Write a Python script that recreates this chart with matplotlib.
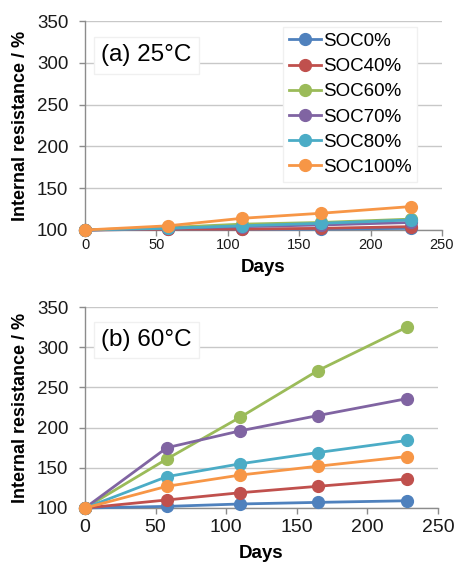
import matplotlib
matplotlib.use("Agg")
import matplotlib.pyplot as plt

plt.rcParams['font.family'] = ['Liberation Sans', 'DejaVu Sans']

days = [0, 58, 110, 165, 228]
labels = ["SOC0%", "SOC40%", "SOC60%", "SOC70%", "SOC80%", "SOC100%"]
colors = ["#4F81BD", "#C0504D", "#9BBB59", "#8064A2", "#4BACC6", "#F79646"]

# (a) 25 C
soc0_25 = [100, 101, 101, 101, 102]
soc40_25 = [100, 101, 101, 102, 104]
soc60_25 = [100, 103, 107, 109, 113]
soc70_25 = [100, 102, 104, 106, 109]
soc80_25 = [100, 102, 105, 108, 112]
soc100_25 = [100, 105, 114, 120, 128]

# (b) 60 C
soc0_60 = [100, 102, 105, 107, 109]
soc40_60 = [100, 110, 119, 127, 136]
soc60_60 = [100, 161, 213, 271, 325]
soc70_60 = [100, 175, 196, 215, 236]
soc80_60 = [100, 139, 155, 169, 184]
soc100_60 = [100, 127, 141, 152, 164]

data25 = [soc0_25, soc40_25, soc60_25, soc70_25, soc80_25, soc100_25]
data60 = [soc0_60, soc40_60, soc60_60, soc70_60, soc80_60, soc100_60]

fig = plt.figure(figsize=(4.57, 5.65), dpi=100)
ax1 = fig.add_axes([85/457, 1-230/565, 357/457, 209/565])
ax2 = fig.add_axes([85/457, 1-508/565, 353/457, 201/565])

def style(ax, title, xsize, xpad, xlabpad):
    ax.set_xlim(0, 250)
    ax.set_ylim(100, 350)
    ax.set_xticks([0, 50, 100, 150, 200, 250])
    ax.set_yticks([100, 150, 200, 250, 300, 350])
    ax.grid(axis='y', color='#C8C8C8', linewidth=1)
    ax.set_axisbelow(True)
    for s in ['top', 'right']:
        ax.spines[s].set_visible(False)
    for s in ['left', 'bottom']:
        ax.spines[s].set_color('#8C8C8C')
        ax.spines[s].set_linewidth(1)
    ax.tick_params(axis='y', direction='out', length=4, width=1, color='#8C8C8C',
                   labelsize=13.5, labelcolor='#1A1A1A', pad=8)
    ax.tick_params(axis='x', direction='out', length=4, width=1, color='#8C8C8C',
                   labelsize=xsize, labelcolor='#1A1A1A', pad=xpad)
    ax.set_xlabel("Days", fontsize=13.5, fontweight='bold', labelpad=xlabpad)
    ax.set_ylabel("Internal resistance / %", fontsize=13, fontweight='bold')
    ax.text(0.045, 0.835, title, transform=ax.transAxes, fontsize=17.5, va='center', ha='left',
            bbox=dict(boxstyle='square,pad=0.3', facecolor='white', edgecolor='#F0F0F0'))

for ax, data in [(ax1, data25), (ax2, data60)]:
    for vals, lab, c in zip(data, labels, colors):
        ax.plot(days, vals, color=c, linewidth=2, marker='o', markersize=8.5, label=lab,
                clip_on=False, zorder=3)

style(ax1, "(a) 25°C", 10.5, 1.5, 5)
style(ax2, "(b) 60°C", 14, 4, 6.5)

ax1.yaxis.set_label_coords(-0.158, 0.5)
ax2.yaxis.set_label_coords(-0.160, 0.5)

leg = ax1.legend(loc='upper right', bbox_to_anchor=(0.93, 0.97), fontsize=13.5, frameon=True,
                 fancybox=False, edgecolor='#F0F0F0', framealpha=1, handlelength=1.7,
                 handletextpad=0.1, labelspacing=0.43, borderpad=0.3, borderaxespad=0)

fig.savefig("out.png", dpi=100)
